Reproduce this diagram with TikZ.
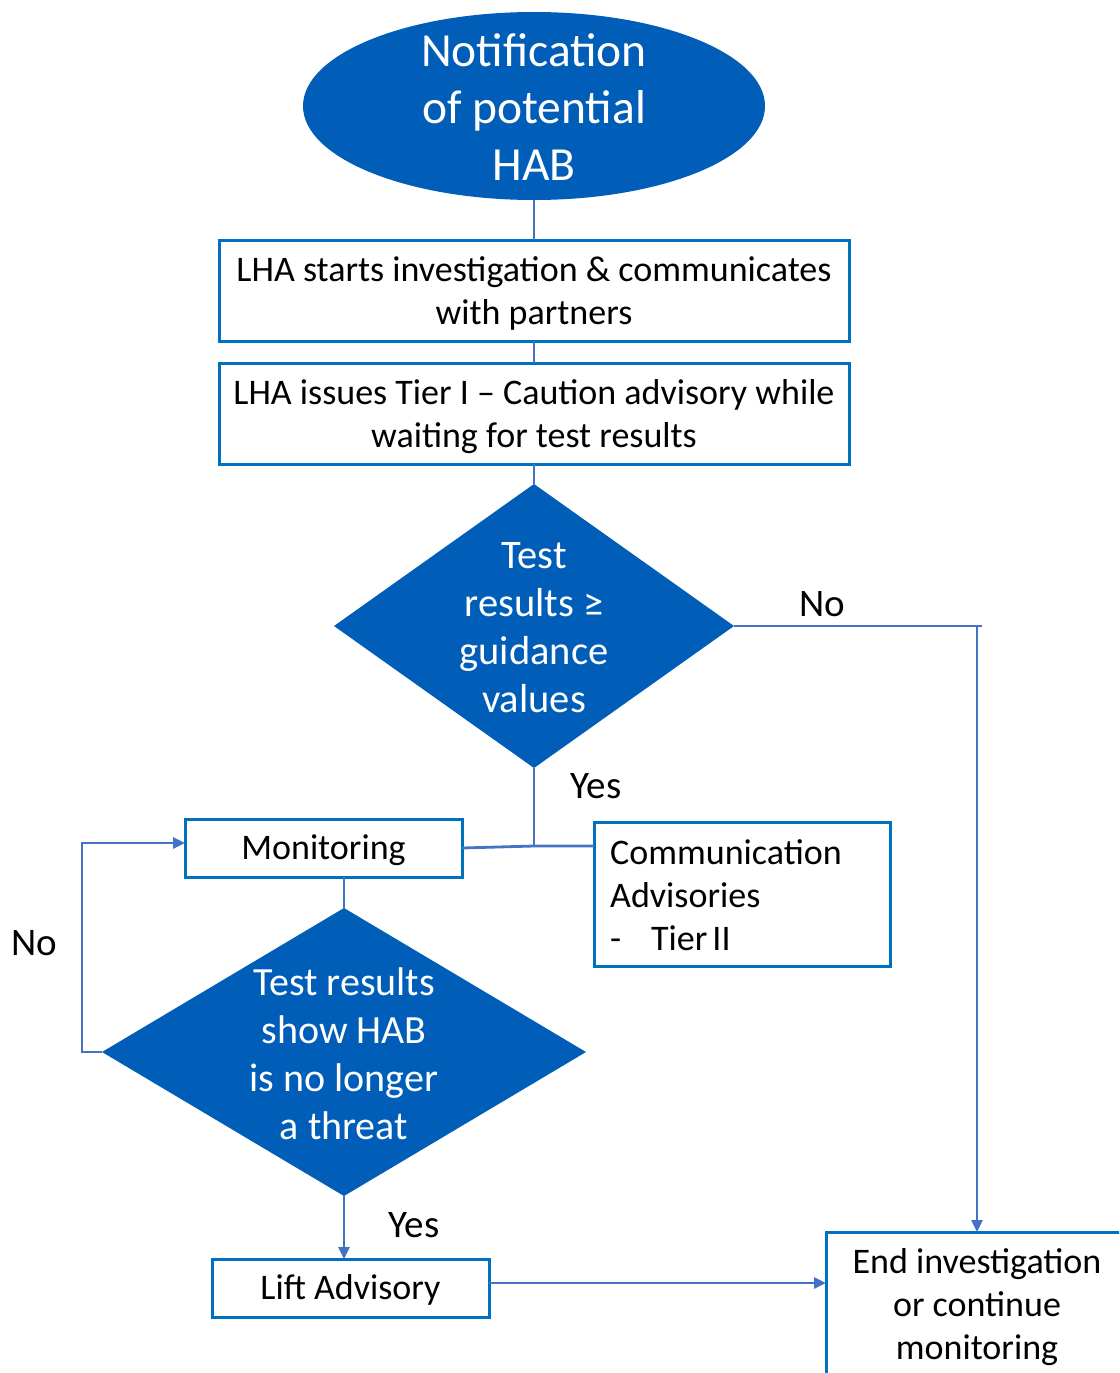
\documentclass[tikz,border=0pt]{standalone}
\usepackage{fontspec}
\setmainfont{Carlito}
\usetikzlibrary{shapes.geometric,arrows.meta}
\definecolor{fillblue}{RGB}{0,94,184}
\definecolor{boxblue}{RGB}{0,112,192}
\definecolor{linkblue}{RGB}{68,114,196}
\begin{document}
\begin{tikzpicture}[x=1pt,y=-1pt,
  boxnode/.style={draw=boxblue,line width=3pt,fill=white,rectangle,outer sep=0pt,inner sep=0pt,align=center,font=\fontsize{36}{43}\selectfont},
  shapefill/.style={fill=fillblue,draw=none,outer sep=0pt,inner sep=0pt},
  whitetext/.style={text=white,align=center,inner sep=0pt},
  txt/.style={align=center,inner sep=0pt,font=\fontsize{36}{43}\selectfont},
  lbl/.style={font=\fontsize{39}{44}\selectfont,inner sep=0pt},
  conn/.style={draw=linkblue,line width=2.8pt},
  arr/.style={conn,-{Triangle[length=12pt,width=11pt]}}]
\useasboundingbox (0,0) rectangle (1119,1373);
\clip (0,0) rectangle (1119,1373);

% ellipse
\node[ellipse,shapefill,minimum width=462,minimum height=188] (ell) at (534,106) {};
\node[whitetext,font=\fontsize{47.5}{57}\selectfont] (ellt) at (534,107) {Notification\\of potential\\HAB};

% boxes
\node[boxnode,minimum width=630,minimum height=101] (b1) at (534,290.5) {};
\node[txt] (b1t) at (534,293.5) {LHA starts investigation \& communicates\\with partners};
\node[boxnode,minimum width=630,minimum height=101] (b2) at (534,413.5) {};
\node[txt] (b2t) at (534,416.5) {LHA issues Tier I -- Caution advisory while\\waiting for test results};

% diamond 1
\node[diamond,shapefill,minimum width=400,minimum height=284] (d1) at (534,626) {};
\node[whitetext,font=\fontsize{40.5}{48}\selectfont] (d1t) at (534,628) {Test\\results ≥\\guidance\\values};

% monitoring + communication
\node[boxnode,minimum width=277,minimum height=58] (mon) at (323.5,848) {};
\node[txt] (mont) at (323.5,850) {Monitoring};
\node[boxnode,minimum width=296,minimum height=144] (comm) at (742,894) {};
\node[txt,align=left,anchor=west] (commt) at (610,895) {Communication\\Advisories\\-\hspace{30pt}Tier\hspace{5pt}II};

% diamond 2
\node[diamond,shapefill,minimum width=484,minimum height=288] (d2) at (344,1052) {};
\node[whitetext,font=\fontsize{40}{48}\selectfont] (d2t) at (344,1054) {Test results\\show HAB\\is no longer\\a threat};

% lift + end
\node[boxnode,minimum width=277,minimum height=58] (lift) at (350.5,1288) {};
\node[txt] (liftt) at (350.5,1290) {Lift Advisory};
\node[boxnode,minimum width=302,minimum height=146] (end) at (977,1305) {};
\node[txt] (endt) at (977,1307) {End investigation\\or continue\\monitoring};

% labels
\node[lbl] (no1) at (822,604) {No};
\node[lbl] (yes1) at (596,786) {Yes};
\node[lbl] (no2) at (34,943) {No};
\node[lbl] (yes2) at (414,1225) {Yes};

% connectors
\draw[conn] (ell.south) -- (b1.north);
\draw[conn] (b1.south) -- (b2.north);
\draw[conn] (b2.south) -- (d1.north);
\coordinate (j) at (534,846);
\draw[conn] (d1.south) -- (j);
\draw[conn] (mon.east) -- (j) -- (j -| comm.west);
\coordinate (nc) at (977,626);
\draw[conn] (d1.east) -- (982,626);
\draw[arr] (nc) -- (end.north);
\draw[conn] (mon.south -| d2.north) -- (d2.north);
\draw[arr] (d2.west) -- ++(-20,0) |- ([yshift=5pt]mon.west);
\draw[arr] (d2.south) -- (d2.south |- lift.north);
\draw[arr] ([yshift=5pt]lift.east) -- ([yshift=5pt]lift.east -| end.west);
\end{tikzpicture}
\end{document}
